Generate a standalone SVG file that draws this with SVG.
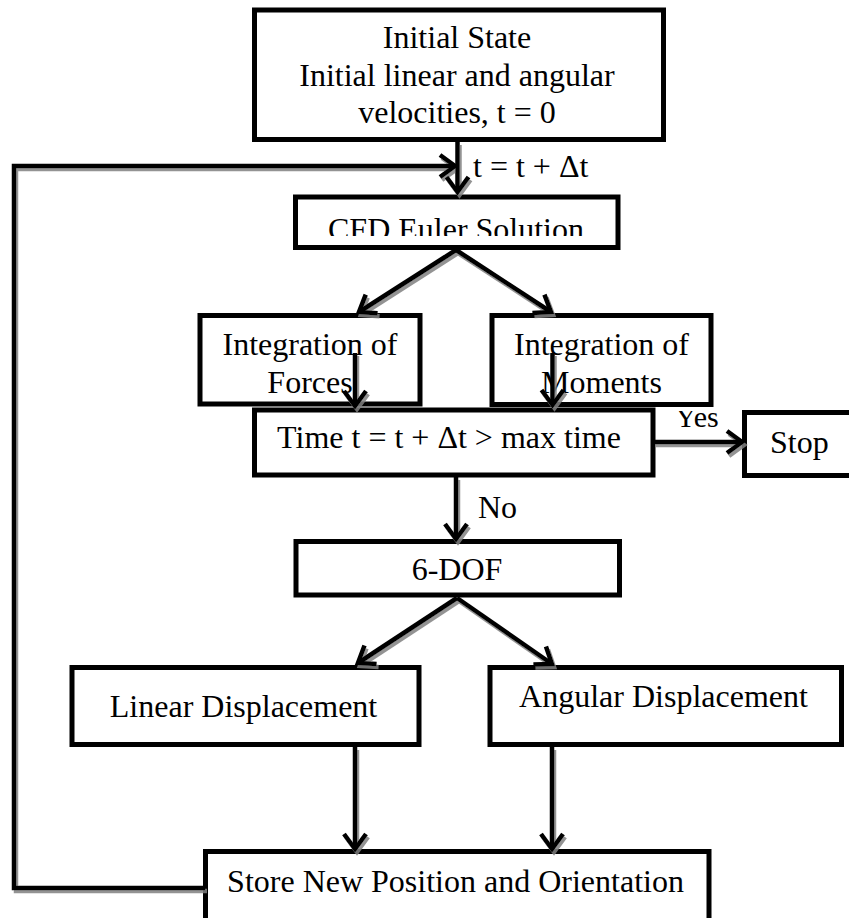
<svg xmlns="http://www.w3.org/2000/svg" width="849" height="918" viewBox="0 0 849 918">
  <defs>
    <style>
      .box { fill: #fff; stroke: #000; stroke-width: 5; }
      .lbl { font-family: "Liberation Serif", "Times New Roman", serif; font-size: 32px; fill: #000; }
      .mid { text-anchor: middle; }
      .conn { fill: none; stroke: #000; stroke-width: 4.5; stroke-linejoin: miter; }
    </style>
    <marker id="arrow" viewBox="-20 -14 24 28" refX="0" refY="0" markerWidth="24" markerHeight="28" markerUnits="userSpaceOnUse" orient="auto" overflow="visible">
      <path d="M-15,-11 L0,0 L-15,11" fill="none" stroke="#000" stroke-width="4.5" stroke-linejoin="miter"/>
    </marker>
    <filter id="shadow" x="-10%" y="-10%" width="120%" height="120%">
      <feDropShadow dx="2" dy="3" stdDeviation="0.6" flood-color="#808080" flood-opacity="0.85"/>
    </filter>
    <clipPath id="cfdClip">
      <rect x="290" y="190" width="335" height="46"/>
    </clipPath>
    <clipPath id="yesClip">
      <rect x="660" y="411" width="80" height="30"/>
    </clipPath>
  </defs>

  <g id="node-initial">
    <rect class="box" x="254.5" y="10" width="409" height="129.5"/>
    <text class="lbl mid" x="457" y="48">Initial State</text>
    <text class="lbl mid" x="457" y="86">Initial linear and angular</text>
    <text class="lbl mid" x="457" y="123">velocities, t = 0</text>
  </g>

  <g id="node-cfd">
    <rect class="box" x="295.5" y="197" width="322.5" height="50.5"/>
    <text class="lbl mid" x="456" y="240" clip-path="url(#cfdClip)">CFD Euler Solution</text>
  </g>

  <g id="node-forces">
    <rect class="box" x="200" y="315.5" width="220" height="88.5"/>
    <text class="lbl mid" x="310" y="355">Integration of</text>
    <text class="lbl mid" x="310" y="393">Forces</text>
  </g>

  <g id="node-moments">
    <rect class="box" x="492" y="315.5" width="219" height="89"/>
    <text class="lbl mid" x="601.5" y="355">Integration of</text>
    <text class="lbl mid" x="601.5" y="393">Moments</text>
  </g>

  <g id="node-time">
    <rect class="box" x="254.5" y="410" width="398.5" height="65"/>
    <text class="lbl mid" x="449" y="448">Time t = t + Δt &gt; max time</text>
  </g>

  <g id="node-stop">
    <rect class="box" x="744.5" y="412.5" width="120" height="63"/>
    <text class="lbl" x="770" y="453">Stop</text>
  </g>

  <g id="node-6dof">
    <rect class="box" x="296" y="541.5" width="323.5" height="53.5"/>
    <text class="lbl mid" x="457" y="580">6-DOF</text>
  </g>

  <g id="node-linear">
    <rect class="box" x="72" y="667.5" width="347" height="77"/>
    <text class="lbl mid" x="243.5" y="717">Linear Displacement</text>
  </g>

  <g id="node-angular">
    <rect class="box" x="490" y="667.5" width="351.5" height="77"/>
    <text class="lbl mid" x="663.5" y="707">Angular Displacement</text>
  </g>

  <g id="node-store">
    <rect class="box" x="205.5" y="851.5" width="503.5" height="90"/>
    <text class="lbl mid" x="455.5" y="892">Store New Position and Orientation</text>
  </g>

  <g id="connectors" filter="url(#shadow)">
    <path class="conn" d="M457.5,142 L457.5,192" marker-end="url(#arrow)"/>
    <path class="conn" d="M205,888 L14,888 L14,166 L455,166" marker-end="url(#arrow)"/>
    <path class="conn" d="M456,250 L359,312" marker-end="url(#arrow)"/>
    <path class="conn" d="M456,250 L551,312" marker-end="url(#arrow)"/>
    <path class="conn" d="M355,353 L355,406" marker-end="url(#arrow)"/>
    <path class="conn" d="M552.5,353 L552.5,405" marker-end="url(#arrow)"/>
    <path class="conn" d="M653,442 L742,442" marker-end="url(#arrow)"/>
    <path class="conn" d="M456,477 L456,539" marker-end="url(#arrow)"/>
    <path class="conn" d="M457,598 L358,663" marker-end="url(#arrow)"/>
    <path class="conn" d="M457,598 L552,664" marker-end="url(#arrow)"/>
    <path class="conn" d="M355,747 L355,849" marker-end="url(#arrow)"/>
    <path class="conn" d="M552,747 L552,849" marker-end="url(#arrow)"/>
  </g>

  <g id="edge-labels">
    <text class="lbl" x="473" y="177">t = t + Δt</text>
    <text class="lbl" x="675" y="427" style="font-size:30px" clip-path="url(#yesClip)">Yes</text>
    <text class="lbl" x="478" y="518">No</text>
  </g>
</svg>
